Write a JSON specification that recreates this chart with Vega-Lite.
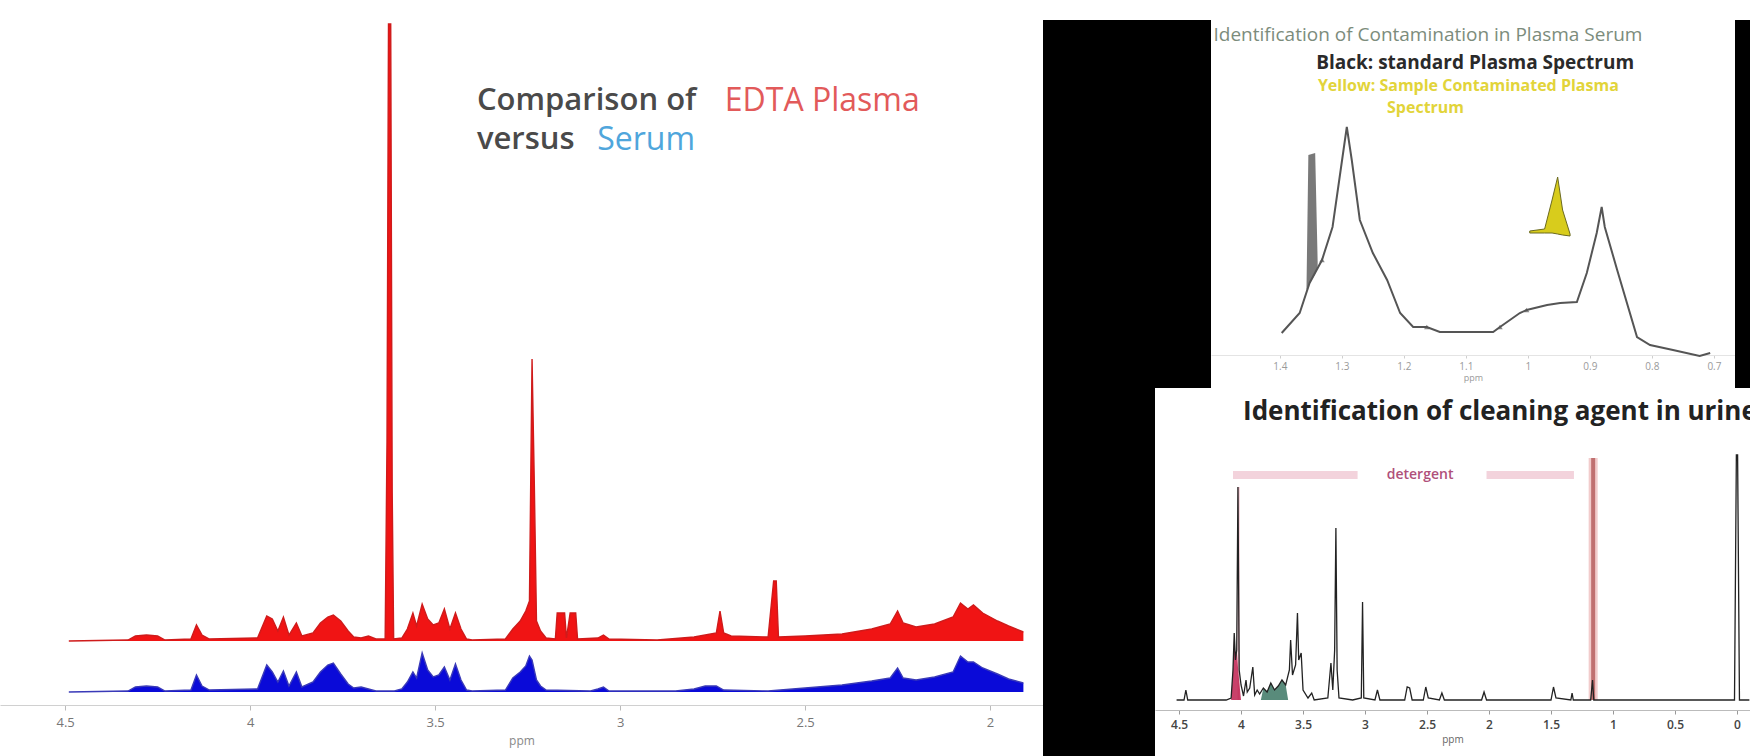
{
  "$schema": "https://vega.github.io/schema/vega-lite/v6.json",
  "background": "white",
  "padding": 0,
  "spacing": 0,
  "config": {"view": {"stroke": null}, "font": "Open Sans"},
  "datasets": {
    "plasma": [
      {"ppm":4.49,"h":0},{"ppm":4.33,"h":1},{"ppm":4.31,"h":5},{"ppm":4.28,"h":6},{"ppm":4.25,"h":5},{"ppm":4.23,"h":1},
      {"ppm":4.16,"h":2},{"ppm":4.145,"h":16},{"ppm":4.13,"h":6},{"ppm":4.11,"h":2},{"ppm":3.98,"h":3},{"ppm":3.955,"h":25},
      {"ppm":3.94,"h":22},{"ppm":3.925,"h":10},{"ppm":3.91,"h":24},{"ppm":3.895,"h":6},{"ppm":3.875,"h":18},{"ppm":3.86,"h":5},
      {"ppm":3.83,"h":8},{"ppm":3.81,"h":18},{"ppm":3.79,"h":24},{"ppm":3.775,"h":26},{"ppm":3.755,"h":20},{"ppm":3.735,"h":10},
      {"ppm":3.72,"h":4},{"ppm":3.70,"h":3},{"ppm":3.68,"h":5},{"ppm":3.66,"h":2},{"ppm":3.635,"h":2},{"ppm":3.630,"h":200},
      {"ppm":3.626,"h":617},{"ppm":3.620,"h":617},{"ppm":3.616,"h":150},{"ppm":3.612,"h":2},{"ppm":3.59,"h":3},{"ppm":3.575,"h":12},
      {"ppm":3.56,"h":28},{"ppm":3.55,"h":15},{"ppm":3.535,"h":37},{"ppm":3.52,"h":22},{"ppm":3.505,"h":16},{"ppm":3.49,"h":18},
      {"ppm":3.475,"h":32},{"ppm":3.46,"h":12},{"ppm":3.445,"h":28},{"ppm":3.43,"h":12},{"ppm":3.415,"h":2},{"ppm":3.40,"h":1},
      {"ppm":3.31,"h":2},{"ppm":3.29,"h":12},{"ppm":3.27,"h":20},{"ppm":3.255,"h":30},{"ppm":3.245,"h":40},{"ppm":3.238,"h":282},
      {"ppm":3.232,"h":160},{"ppm":3.226,"h":20},{"ppm":3.215,"h":10},{"ppm":3.20,"h":3},{"ppm":3.175,"h":2},{"ppm":3.17,"h":28},
      {"ppm":3.15,"h":28},{"ppm":3.145,"h":3},{"ppm":3.135,"h":28},{"ppm":3.12,"h":28},{"ppm":3.115,"h":2},{"ppm":3.06,"h":3},
      {"ppm":3.045,"h":6},{"ppm":3.03,"h":2},{"ppm":2.90,"h":1},{"ppm":2.80,"h":4},{"ppm":2.74,"h":8},{"ppm":2.73,"h":30},
      {"ppm":2.72,"h":8},{"ppm":2.70,"h":5},{"ppm":2.60,"h":4},{"ppm":2.585,"h":60},{"ppm":2.578,"h":60},{"ppm":2.572,"h":4},
      {"ppm":2.50,"h":5},{"ppm":2.40,"h":7},{"ppm":2.32,"h":12},{"ppm":2.27,"h":17},{"ppm":2.25,"h":30},{"ppm":2.235,"h":18},
      {"ppm":2.20,"h":14},{"ppm":2.15,"h":17},{"ppm":2.10,"h":24},{"ppm":2.08,"h":38},{"ppm":2.06,"h":32},{"ppm":2.045,"h":36},
      {"ppm":2.02,"h":28},{"ppm":1.98,"h":20},{"ppm":1.95,"h":15},{"ppm":1.91,"h":9}
    ],
    "serum": [
      {"ppm":4.49,"h":0},{"ppm":4.33,"h":1},{"ppm":4.31,"h":5},{"ppm":4.28,"h":6},{"ppm":4.25,"h":5},{"ppm":4.23,"h":1},
      {"ppm":4.16,"h":2},{"ppm":4.145,"h":17},{"ppm":4.13,"h":6},{"ppm":4.11,"h":2},{"ppm":3.98,"h":3},{"ppm":3.955,"h":27},
      {"ppm":3.94,"h":20},{"ppm":3.925,"h":10},{"ppm":3.91,"h":21},{"ppm":3.895,"h":6},{"ppm":3.875,"h":20},{"ppm":3.86,"h":5},
      {"ppm":3.83,"h":10},{"ppm":3.81,"h":20},{"ppm":3.79,"h":27},{"ppm":3.775,"h":29},{"ppm":3.755,"h":18},{"ppm":3.735,"h":8},
      {"ppm":3.72,"h":4},{"ppm":3.70,"h":5},{"ppm":3.68,"h":3},{"ppm":3.66,"h":1},{"ppm":3.61,"h":1},{"ppm":3.59,"h":3},
      {"ppm":3.575,"h":10},{"ppm":3.56,"h":20},{"ppm":3.55,"h":14},{"ppm":3.535,"h":39},{"ppm":3.52,"h":22},{"ppm":3.505,"h":15},
      {"ppm":3.49,"h":17},{"ppm":3.475,"h":25},{"ppm":3.46,"h":12},{"ppm":3.445,"h":28},{"ppm":3.43,"h":12},{"ppm":3.415,"h":2},
      {"ppm":3.40,"h":1},{"ppm":3.31,"h":2},{"ppm":3.29,"h":14},{"ppm":3.27,"h":20},{"ppm":3.255,"h":26},{"ppm":3.245,"h":36},
      {"ppm":3.238,"h":32},{"ppm":3.226,"h":12},{"ppm":3.215,"h":6},{"ppm":3.20,"h":2},{"ppm":3.08,"h":1},{"ppm":3.06,"h":3},
      {"ppm":3.045,"h":5},{"ppm":3.03,"h":1},{"ppm":2.85,"h":1},{"ppm":2.80,"h":3},{"ppm":2.77,"h":6},{"ppm":2.74,"h":6},
      {"ppm":2.72,"h":2},{"ppm":2.60,"h":1},{"ppm":2.50,"h":4},{"ppm":2.40,"h":7},{"ppm":2.32,"h":11},{"ppm":2.27,"h":14},
      {"ppm":2.25,"h":24},{"ppm":2.235,"h":14},{"ppm":2.20,"h":12},{"ppm":2.15,"h":15},{"ppm":2.10,"h":20},{"ppm":2.08,"h":36},
      {"ppm":2.06,"h":30},{"ppm":2.045,"h":30},{"ppm":2.02,"h":24},{"ppm":1.98,"h":18},{"ppm":1.95,"h":13},{"ppm":1.91,"h":9}
    ],
    "lipid": [
      {"ppm":1.397,"h":27},{"ppm":1.368,"h":47},{"ppm":1.352,"h":77},{"ppm":1.332,"h":100},{"ppm":1.315,"h":133},
      {"ppm":1.298,"h":207},{"ppm":1.292,"h":233},{"ppm":1.284,"h":200},{"ppm":1.271,"h":140},{"ppm":1.250,"h":107},
      {"ppm":1.227,"h":80},{"ppm":1.206,"h":47},{"ppm":1.185,"h":33},{"ppm":1.163,"h":33},{"ppm":1.142,"h":28},
      {"ppm":1.056,"h":28},{"ppm":1.045,"h":33},{"ppm":1.013,"h":47},{"ppm":1.002,"h":50},{"ppm":0.969,"h":55},
      {"ppm":0.948,"h":57},{"ppm":0.921,"h":58},{"ppm":0.905,"h":87},{"ppm":0.889,"h":127},{"ppm":0.881,"h":153},
      {"ppm":0.876,"h":133},{"ppm":0.856,"h":90},{"ppm":0.824,"h":23},{"ppm":0.803,"h":15},{"ppm":0.766,"h":10},
      {"ppm":0.723,"h":4},{"ppm":0.706,"h":7}
    ],
    "lactate": [
      {"ppm":1.357,"top":72,"base":70},{"ppm":1.354,"top":205,"base":74},{"ppm":1.343,"top":207,"base":86},{"ppm":1.339,"top":98,"base":94}
    ],
    "contaminant": [
      {"ppm":0.997,"top":129,"base":127},{"ppm":0.973,"top":131,"base":127},{"ppm":0.961,"top":160,"base":127},
      {"ppm":0.952,"top":183,"base":126},{"ppm":0.944,"top":150,"base":125},{"ppm":0.932,"top":126,"base":124}
    ],
    "peakMarks": [
      {"ppm":1.332,"h":100},{"ppm":1.163,"h":33},{"ppm":1.045,"h":33},{"ppm":1.002,"h":50}
    ],
    "urine": [
      {"ppm":4.52,"h":10},{"ppm":4.46,"h":10},{"ppm":4.445,"h":20},{"ppm":4.43,"h":10},{"ppm":4.12,"h":10},{"ppm":4.08,"h":12},
      {"ppm":4.065,"h":40},{"ppm":4.055,"h":77},{"ppm":4.045,"h":50},{"ppm":4.035,"h":60},{"ppm":4.025,"h":223},{"ppm":4.015,"h":40},
      {"ppm":4.0,"h":25},{"ppm":3.98,"h":14},{"ppm":3.96,"h":30},{"ppm":3.95,"h":18},{"ppm":3.93,"h":22},{"ppm":3.905,"h":43},
      {"ppm":3.89,"h":15},{"ppm":3.87,"h":20},{"ppm":3.85,"h":16},{"ppm":3.82,"h":22},{"ppm":3.79,"h":18},{"ppm":3.76,"h":27},
      {"ppm":3.73,"h":20},{"ppm":3.70,"h":24},{"ppm":3.67,"h":30},{"ppm":3.64,"h":25},{"ppm":3.61,"h":40},{"ppm":3.60,"h":70},
      {"ppm":3.585,"h":35},{"ppm":3.56,"h":45},{"ppm":3.545,"h":97},{"ppm":3.535,"h":50},{"ppm":3.515,"h":57},{"ppm":3.50,"h":20},
      {"ppm":3.46,"h":12},{"ppm":3.43,"h":17},{"ppm":3.41,"h":10},{"ppm":3.30,"h":12},{"ppm":3.275,"h":47},{"ppm":3.26,"h":20},
      {"ppm":3.245,"h":60},{"ppm":3.235,"h":182},{"ppm":3.225,"h":40},{"ppm":3.21,"h":12},{"ppm":3.10,"h":10},{"ppm":3.03,"h":12},
      {"ppm":3.02,"h":108},{"ppm":3.01,"h":12},{"ppm":2.92,"h":10},{"ppm":2.90,"h":20},{"ppm":2.88,"h":10},{"ppm":2.68,"h":10},
      {"ppm":2.66,"h":23},{"ppm":2.64,"h":22},{"ppm":2.62,"h":10},{"ppm":2.53,"h":10},{"ppm":2.51,"h":23},{"ppm":2.49,"h":12},
      {"ppm":2.40,"h":10},{"ppm":2.38,"h":17},{"ppm":2.36,"h":10},{"ppm":2.06,"h":10},{"ppm":2.04,"h":18},{"ppm":2.02,"h":10},
      {"ppm":1.50,"h":10},{"ppm":1.48,"h":23},{"ppm":1.46,"h":12},{"ppm":1.34,"h":10},{"ppm":1.33,"h":17},{"ppm":1.32,"h":10},
      {"ppm":1.18,"h":10},{"ppm":1.165,"h":30},{"ppm":1.155,"h":10},{"ppm":0.02,"h":10},{"ppm":0.005,"h":255},{"ppm":-0.005,"h":255},
      {"ppm":-0.02,"h":10},{"ppm":-0.1,"h":10}
    ],
    "urineRed": [
      {"ppm":4.08,"h":10},{"ppm":4.065,"h":40},{"ppm":4.055,"h":77},{"ppm":4.045,"h":50},{"ppm":4.035,"h":60},{"ppm":4.02,"h":35},{"ppm":4.0,"h":10}
    ],
    "urineMid": [
      {"ppm":3.84,"h":10},{"ppm":3.82,"h":22},{"ppm":3.79,"h":18},{"ppm":3.76,"h":27},{"ppm":3.73,"h":20},{"ppm":3.70,"h":24},{"ppm":3.67,"h":30},{"ppm":3.64,"h":25},{"ppm":3.62,"h":10}
    ],
    "leftMarker": [{"ppm":4.02,"top":223,"base":10}],
    "rightMarker": [{"ppm":1.16,"top":252,"base":10}],
    "detergentBand": [
      {"from":4.065,"to":3.06,"h":235},{"from":2.02,"to":1.315,"h":235}
    ]
  },
  "hconcat": [
    {
      "width": 1043,
      "height": 705,
      "encoding": {
        "x": {
          "field": "ppm", "type": "quantitative",
          "scale": {"domain": [4.676, 1.857], "nice": false, "zero": false},
          "axis": {
            "values": [4.5, 4, 3.5, 3, 2.5, 2], "format": "~g", "title": "ppm",
            "labelFontSize": 13, "labelColor": "#777", "labelPadding": 6,
            "tickColor": "#bbb", "tickSize": 5, "domainColor": "#d0d0d0", "grid": false,
            "titleFontSize": 12, "titleColor": "#888", "titleFontWeight": "normal", "titlePadding": 6
          }
        }
      },
      "layer": [
        {
          "data": {"name": "plasma"},
          "mark": {"type": "area", "color": "#f01414", "opacity": 1, "line": {"color": "#cf1b1b", "strokeWidth": 1.4}},
          "encoding": {"y": {"field": "h", "type": "quantitative", "scale": {"domain": [-64, 641], "nice": false, "zero": false}, "axis": null}}
        },
        {
          "data": {"name": "serum"},
          "mark": {"type": "area", "color": "#0a0ad8", "opacity": 1, "line": {"color": "#3a3ab8", "strokeWidth": 1.4}},
          "encoding": {"y": {"field": "h", "type": "quantitative", "scale": {"domain": [-13, 692], "nice": false, "zero": false}, "axis": null}}
        },
        {
          "data": {"values": [
            {"ppm": 3.387, "h": 540, "label": "Comparison of"},
            {"ppm": 3.387, "h": 501, "label": "versus"}
          ]},
          "mark": {"type": "text", "align": "left", "baseline": "middle", "fontSize": 31, "fontWeight": 600, "color": "#4a4a4a"},
          "encoding": {
            "y": {"field": "h", "type": "quantitative", "scale": {"domain": [-64, 641], "nice": false, "zero": false}, "axis": null},
            "text": {"field": "label"}
          }
        },
        {
          "data": {"values": [
            {"ppm": 2.717, "h": 540, "label": "EDTA Plasma", "role": "plasma"},
            {"ppm": 3.062, "h": 501, "label": "Serum", "role": "serum"}
          ]},
          "mark": {"type": "text", "align": "left", "baseline": "middle", "fontSize": 32},
          "encoding": {
            "y": {"field": "h", "type": "quantitative", "scale": {"domain": [-64, 641], "nice": false, "zero": false}, "axis": null},
            "text": {"field": "label"},
            "color": {"field": "role", "type": "nominal", "scale": {"domain": ["plasma", "serum"], "range": ["#e25a5a", "#4fa6dc"]}, "legend": null}
          }
        }
      ],
      "resolve": {"scale": {"y": "independent"}}
    },
    {
      "spacing": 0,
      "vconcat": [
        {"width": 707, "height": 20, "view": {"fill": "white", "stroke": null}, "data": {"values": []}, "mark": "rect", "encoding": {}},
        {
          "spacing": 0,
          "hconcat": [
            {"width": 168, "height": 368, "view": {"fill": "black", "stroke": null}, "data": {"values": []}, "mark": "rect", "encoding": {}},
            {
              "width": 524,
              "height": 335,
              "encoding": {
                "x": {
                  "field": "ppm", "type": "quantitative",
                  "scale": {"domain": [1.511, 0.666], "nice": false, "zero": false},
                  "axis": {
                    "values": [1.4, 1.3, 1.2, 1.1, 1, 0.9, 0.8, 0.7], "format": "~g", "title": "ppm",
                    "labelFontSize": 10, "labelColor": "#9a9a9a", "labelPadding": 3,
                    "tickColor": "#cfcfcf", "tickSize": 3, "domainColor": "#e4e4e4", "grid": false,
                    "titleFontSize": 9, "titleColor": "#9a9a9a", "titleFontWeight": "normal", "titlePadding": 2
                  }
                }
              },
              "layer": [
                {
                  "data": {"name": "lactate"},
                  "mark": {"type": "area", "color": "#6a6a6a", "opacity": 0.9},
                  "encoding": {
                    "y": {"field": "top", "type": "quantitative", "scale": {"domain": [5, 340], "nice": false, "zero": false}, "axis": null},
                    "y2": {"field": "base"}
                  }
                },
                {
                  "data": {"name": "contaminant"},
                  "mark": {"type": "area", "color": "#d8cc1c", "stroke": "#6b6a20", "strokeWidth": 1},
                  "encoding": {
                    "y": {"field": "top", "type": "quantitative", "scale": {"domain": [5, 340], "nice": false, "zero": false}, "axis": null},
                    "y2": {"field": "base"}
                  }
                },
                {
                  "data": {"name": "lipid"},
                  "mark": {"type": "line", "color": "#555555", "strokeWidth": 2},
                  "encoding": {"y": {"field": "h", "type": "quantitative", "scale": {"domain": [5, 340], "nice": false, "zero": false}, "axis": null}}
                },
                {
                  "data": {"name": "peakMarks"},
                  "mark": {"type": "point", "shape": "triangle-up", "filled": true, "size": 30, "color": "#555555"},
                  "encoding": {"y": {"field": "h", "type": "quantitative", "scale": {"domain": [5, 340], "nice": false, "zero": false}, "axis": null}}
                },
                {
                  "data": {"values": [{"ppm": 1.507, "h": 325, "label": "Identification of Contamination in Plasma Serum"}]},
                  "mark": {"type": "text", "align": "left", "baseline": "middle", "fontSize": 19, "color": "#7c8c7c"},
                  "encoding": {
                    "y": {"field": "h", "type": "quantitative", "scale": {"domain": [5, 340], "nice": false, "zero": false}, "axis": null},
                    "text": {"field": "label"}
                  }
                },
                {
                  "data": {"values": [{"ppm": 1.085, "h": 297, "label": "Black: standard Plasma Spectrum"}]},
                  "mark": {"type": "text", "align": "center", "baseline": "middle", "fontSize": 19, "fontWeight": "bold", "color": "#2a2a2a"},
                  "encoding": {
                    "y": {"field": "h", "type": "quantitative", "scale": {"domain": [5, 340], "nice": false, "zero": false}, "axis": null},
                    "text": {"field": "label"}
                  }
                },
                {
                  "data": {"values": [
                    {"ppm": 1.096, "h": 274, "label": "Yellow: Sample Contaminated Plasma"},
                    {"ppm": 1.165, "h": 252, "label": "Spectrum"}
                  ]},
                  "mark": {"type": "text", "align": "center", "baseline": "middle", "fontSize": 16, "fontWeight": "bold", "color": "#e2d43a"},
                  "encoding": {
                    "y": {"field": "h", "type": "quantitative", "scale": {"domain": [5, 340], "nice": false, "zero": false}, "axis": null},
                    "text": {"field": "label"}
                  }
                }
              ]
            },
            {"width": 15, "height": 368, "view": {"fill": "black", "stroke": null}, "data": {"values": []}, "mark": "rect", "encoding": {}}
          ]
        },
        {
          "spacing": 0,
          "hconcat": [
            {"width": 112, "height": 368, "view": {"fill": "black", "stroke": null}, "data": {"values": []}, "mark": "rect", "encoding": {}},
            {
              "width": 595,
              "height": 322,
              "encoding": {
                "x": {
                  "field": "ppm", "type": "quantitative",
                  "scale": {"domain": [4.694, -0.105], "nice": false, "zero": false},
                  "axis": {
                    "values": [4.5, 4, 3.5, 3, 2.5, 2, 1.5, 1, 0.5, 0], "format": "~g", "title": "ppm",
                    "labelFontSize": 12, "labelColor": "#444", "labelPadding": 5, "labelFontWeight": 600,
                    "tickColor": "#999", "tickSize": 4, "domainColor": "#bbbbbb", "grid": false,
                    "titleFontSize": 10, "titleColor": "#666", "titleFontWeight": "normal", "titlePadding": 4
                  }
                }
              },
              "layer": [
                {
                  "data": {"name": "detergentBand"},
                  "mark": {"type": "rule", "color": "#f3d3dc", "strokeWidth": 8},
                  "encoding": {
                    "x": {"field": "from", "type": "quantitative"},
                    "x2": {"field": "to"},
                    "y": {"field": "h", "type": "quantitative", "scale": {"domain": [0, 322], "nice": false, "zero": false}, "axis": null}
                  }
                },
                {
                  "data": {"name": "leftMarker"},
                  "mark": {"type": "rule", "color": "#f0b8c4", "strokeWidth": 2},
                  "encoding": {
                    "y": {"field": "top", "type": "quantitative", "scale": {"domain": [0, 322], "nice": false, "zero": false}, "axis": null},
                    "y2": {"field": "base"}
                  }
                },
                {
                  "data": {"name": "rightMarker"},
                  "mark": {"type": "rule", "color": "#f2cccc", "strokeWidth": 9},
                  "encoding": {
                    "y": {"field": "top", "type": "quantitative", "scale": {"domain": [0, 322], "nice": false, "zero": false}, "axis": null},
                    "y2": {"field": "base"}
                  }
                },
                {
                  "data": {"name": "rightMarker"},
                  "mark": {"type": "rule", "color": "#c07070", "strokeWidth": 4},
                  "encoding": {
                    "y": {"field": "top", "type": "quantitative", "scale": {"domain": [0, 322], "nice": false, "zero": false}, "axis": null},
                    "y2": {"field": "base"}
                  }
                },
                {
                  "data": {"name": "urineRed"},
                  "mark": {"type": "area", "color": "#c02050", "opacity": 0.85},
                  "encoding": {
                    "y": {"field": "h", "type": "quantitative", "scale": {"domain": [0, 322], "nice": false, "zero": false}, "axis": null},
                    "y2": {"datum": 10}
                  }
                },
                {
                  "data": {"name": "urineMid"},
                  "mark": {"type": "area", "color": "#2f6e5a", "opacity": 0.8},
                  "encoding": {
                    "y": {"field": "h", "type": "quantitative", "scale": {"domain": [0, 322], "nice": false, "zero": false}, "axis": null},
                    "y2": {"datum": 10}
                  }
                },
                {
                  "data": {"name": "urine"},
                  "mark": {"type": "line", "color": "#222222", "strokeWidth": 1.3},
                  "encoding": {"y": {"field": "h", "type": "quantitative", "scale": {"domain": [0, 322], "nice": false, "zero": false}, "axis": null}}
                },
                {
                  "data": {"values": [{"ppm": 2.556, "h": 235, "label": "detergent"}]},
                  "mark": {"type": "text", "align": "center", "baseline": "middle", "fontSize": 14, "fontWeight": 600, "color": "#b0507a"},
                  "encoding": {
                    "y": {"field": "h", "type": "quantitative", "scale": {"domain": [0, 322], "nice": false, "zero": false}, "axis": null},
                    "text": {"field": "label"}
                  }
                },
                {
                  "data": {"values": [{"ppm": 3.984, "h": 298, "label": "Identification of cleaning agent in urine"}]},
                  "mark": {"type": "text", "align": "left", "baseline": "middle", "fontSize": 26, "fontWeight": "bold", "color": "#222222"},
                  "encoding": {
                    "y": {"field": "h", "type": "quantitative", "scale": {"domain": [0, 322], "nice": false, "zero": false}, "axis": null},
                    "text": {"field": "label"}
                  }
                }
              ]
            }
          ]
        }
      ]
    }
  ]
}
